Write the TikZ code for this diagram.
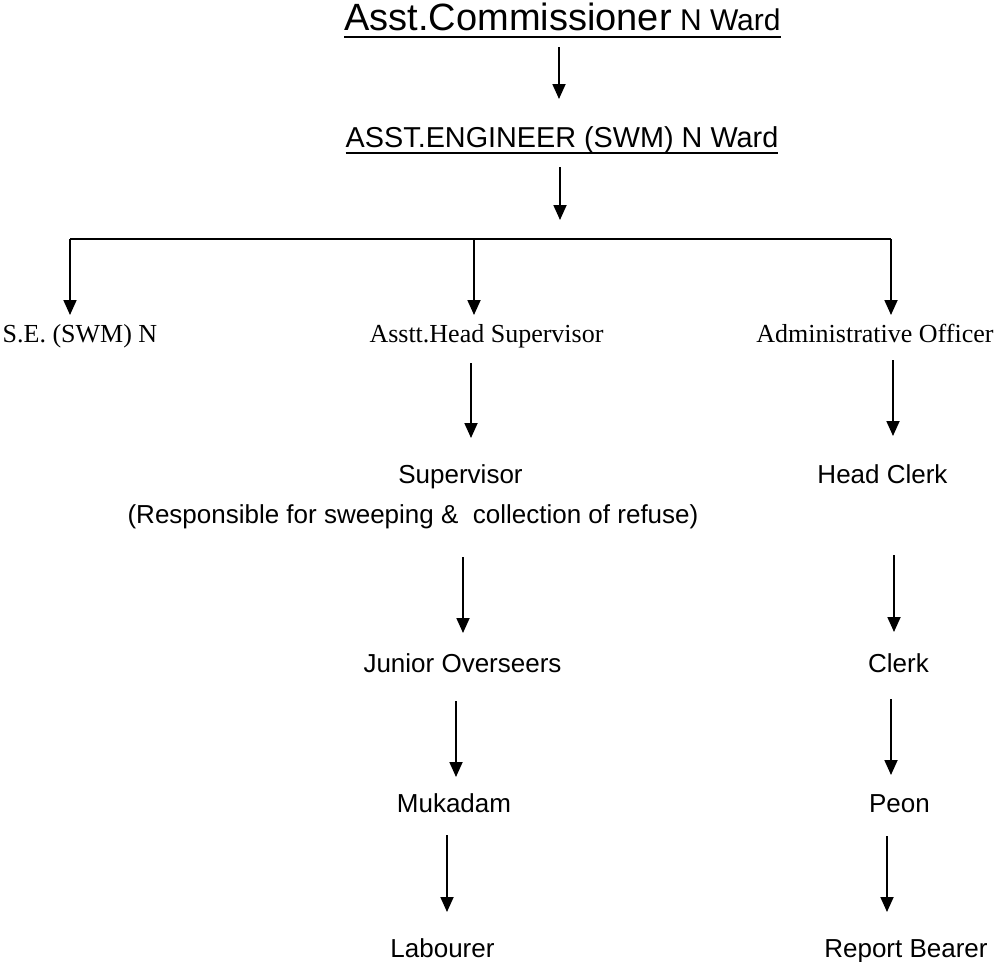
\documentclass[tikz,border=0pt]{standalone}
\usepackage{fontspec}
\setmainfont{Liberation Serif}
\newfontfamily\arial{Liberation Sans}
\usetikzlibrary{arrows.meta}
\begin{document}
\begin{tikzpicture}[x=1pt,y=-1pt,
  arr/.style={line width=1.8pt,-{Triangle[width=13pt,length=15pt]}},
  bar/.style={line width=1.8pt},
  uline/.style={line width=2pt},
  sans/.style={inner sep=0pt,anchor=base,font=\arial\fontsize{26}{30}\selectfont},
  serif/.style={inner sep=0pt,anchor=base,font=\fontsize{26}{30}\selectfont},
  ttl/.style={inner sep=0pt,anchor=base}]
\useasboundingbox (0,0) rectangle (997,962);
% titles
\node[ttl] (t1) at (562.5,30) {\arial\fontsize{38}{42}\selectfont Asst.Commissioner\fontsize{30}{34}\selectfont{} N Ward};
\node[ttl] (t2) at (562,147) {\arial\fontsize{28.8}{32}\selectfont ASST.ENGINEER (SWM) N Ward};
\draw[uline] ([yshift=-7pt]t1.base west) -- ([yshift=-7pt]t1.base east);
\draw[uline] ([yshift=-6pt]t2.base west) -- ([yshift=-6pt]t2.base east);
% level 3
\node[serif] (se) at (80,342) {S.E. (SWM) N};
\node[serif] (ahs) at (486.5,342) {Asstt.Head Supervisor};
\node[serif] (ao) at (875,342) {Administrative Officer};
% left branch
\node[sans] (sup) at (460.5,483) {Supervisor};
\node[sans] (resp) at (413,523) {(Responsible for sweeping \&\ \ collection of refuse)};
\node[sans] (jo) at (462.5,672) {Junior Overseers};
\node[sans] (muk) at (454,812) {Mukadam};
\node[sans] (lab) at (442.5,957) {Labourer};
% right branch
\node[sans] (hc) at (882.5,483) {Head Clerk};
\node[sans] (clk) at (898.5,672) {Clerk};
\node[sans] (peon) at (899.5,812) {Peon};
\node[sans] (rb) at (906,957) {Report Bearer};
% connector coordinates
\coordinate (t1o) at (559,47);  \coordinate (t2i) at (559,99);
\coordinate (t2o) at (560,167); \coordinate (bari) at (560,220);
\coordinate (bl) at (70,239); \coordinate (bm) at (474,239); \coordinate (br) at (891,239);
\coordinate (sei) at (70,315); \coordinate (ahsi) at (474,315); \coordinate (aoi) at (891,315);
\coordinate (ahso) at (471,363); \coordinate (supi) at (471,438);
\coordinate (aoo) at (893,360); \coordinate (hci) at (893,436);
\coordinate (supo) at (463,557); \coordinate (joi) at (463,633);
\coordinate (hco) at (894,555); \coordinate (clki) at (894,632);
\coordinate (joo) at (456,701); \coordinate (muki) at (456,777);
\coordinate (clko) at (891,699); \coordinate (peoni) at (891,775);
\coordinate (muko) at (447,835); \coordinate (labi) at (447,912);
\coordinate (peono) at (887,836); \coordinate (rbi) at (887,912);
% connectors
\draw[arr] (t1o) -- (t2i);
\draw[arr] (t2o) -- (bari);
\draw[bar] (bl) -- (br);
\draw[arr] (bl) -- (sei);
\draw[arr] (bm) -- (ahsi);
\draw[arr] (br) -- (aoi);
\draw[arr] (ahso) -- (supi);
\draw[arr] (aoo) -- (hci);
\draw[arr] (supo) -- (joi);
\draw[arr] (hco) -- (clki);
\draw[arr] (joo) -- (muki);
\draw[arr] (clko) -- (peoni);
\draw[arr] (muko) -- (labi);
\draw[arr] (peono) -- (rbi);
\end{tikzpicture}
\end{document}
